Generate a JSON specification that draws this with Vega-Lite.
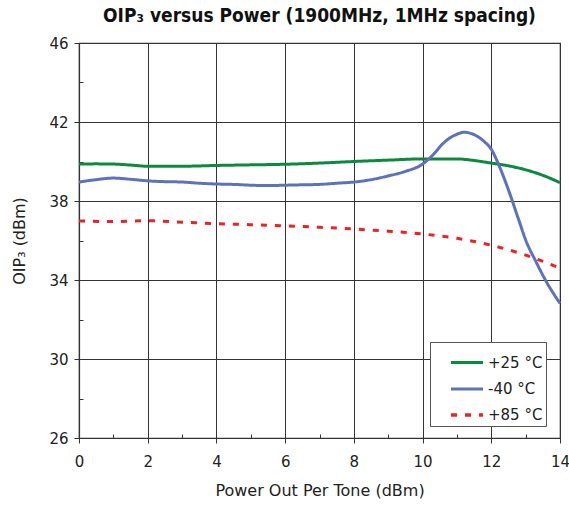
{
  "$schema": "https://vega.github.io/schema/vega-lite/v6.json",
  "autosize": "none",
  "width": 481,
  "height": 395,
  "padding": {"left": 79, "top": 43, "right": 9, "bottom": 68},
  "background": "white",
  "title": {
    "text": "OIP₃ versus Power (1900MHz, 1MHz spacing)",
    "font": "DejaVu Sans Condensed",
    "fontSize": 19,
    "fontWeight": "bold",
    "color": "#111",
    "offset": 10,
    "anchor": "middle"
  },
  "config": {
    "view": {"stroke": "#333", "strokeWidth": 1.2},
    "font": "DejaVu Sans"
  },
  "data": {
    "values": [
      {"series": "+25°C", "x": 0, "y": 39.87},
      {"series": "+25°C", "x": 0.5, "y": 39.88},
      {"series": "+25°C", "x": 1, "y": 39.87},
      {"series": "+25°C", "x": 1.5, "y": 39.82},
      {"series": "+25°C", "x": 2, "y": 39.76},
      {"series": "+25°C", "x": 3, "y": 39.76},
      {"series": "+25°C", "x": 4, "y": 39.8},
      {"series": "+25°C", "x": 5, "y": 39.83},
      {"series": "+25°C", "x": 6, "y": 39.86},
      {"series": "+25°C", "x": 7, "y": 39.92},
      {"series": "+25°C", "x": 8, "y": 40.0},
      {"series": "+25°C", "x": 9, "y": 40.07},
      {"series": "+25°C", "x": 10, "y": 40.13},
      {"series": "+25°C", "x": 11, "y": 40.13},
      {"series": "+25°C", "x": 11.5, "y": 40.05},
      {"series": "+25°C", "x": 12, "y": 39.92},
      {"series": "+25°C", "x": 12.5, "y": 39.78},
      {"series": "+25°C", "x": 13, "y": 39.58},
      {"series": "+25°C", "x": 13.5, "y": 39.3},
      {"series": "+25°C", "x": 14, "y": 38.93},
      {"series": "-40°C", "x": 0, "y": 38.96},
      {"series": "-40°C", "x": 0.5, "y": 39.08},
      {"series": "-40°C", "x": 1, "y": 39.16},
      {"series": "-40°C", "x": 1.5, "y": 39.1},
      {"series": "-40°C", "x": 2, "y": 39.02},
      {"series": "-40°C", "x": 2.5, "y": 38.98},
      {"series": "-40°C", "x": 3, "y": 38.96},
      {"series": "-40°C", "x": 3.5, "y": 38.9},
      {"series": "-40°C", "x": 4, "y": 38.86},
      {"series": "-40°C", "x": 4.5, "y": 38.84},
      {"series": "-40°C", "x": 5, "y": 38.8},
      {"series": "-40°C", "x": 5.5, "y": 38.78},
      {"series": "-40°C", "x": 6, "y": 38.8},
      {"series": "-40°C", "x": 6.5, "y": 38.82},
      {"series": "-40°C", "x": 7, "y": 38.84},
      {"series": "-40°C", "x": 7.5, "y": 38.9},
      {"series": "-40°C", "x": 8, "y": 38.96},
      {"series": "-40°C", "x": 8.5, "y": 39.08},
      {"series": "-40°C", "x": 9, "y": 39.27},
      {"series": "-40°C", "x": 9.5, "y": 39.5},
      {"series": "-40°C", "x": 10, "y": 39.87},
      {"series": "-40°C", "x": 10.3, "y": 40.33},
      {"series": "-40°C", "x": 10.6, "y": 40.92},
      {"series": "-40°C", "x": 10.8, "y": 41.2},
      {"series": "-40°C", "x": 11, "y": 41.38},
      {"series": "-40°C", "x": 11.2, "y": 41.48},
      {"series": "-40°C", "x": 11.5, "y": 41.36},
      {"series": "-40°C", "x": 11.8, "y": 41.0},
      {"series": "-40°C", "x": 12, "y": 40.62},
      {"series": "-40°C", "x": 12.2, "y": 39.9},
      {"series": "-40°C", "x": 12.5, "y": 38.56},
      {"series": "-40°C", "x": 12.8, "y": 37.04},
      {"series": "-40°C", "x": 13, "y": 36.03},
      {"series": "-40°C", "x": 13.3, "y": 34.93},
      {"series": "-40°C", "x": 13.6, "y": 33.92},
      {"series": "-40°C", "x": 14, "y": 32.82},
      {"series": "+85°C", "x": 0, "y": 36.99},
      {"series": "+85°C", "x": 1, "y": 36.96},
      {"series": "+85°C", "x": 2, "y": 37.0},
      {"series": "+85°C", "x": 3, "y": 36.93},
      {"series": "+85°C", "x": 4, "y": 36.85},
      {"series": "+85°C", "x": 5, "y": 36.8},
      {"series": "+85°C", "x": 6, "y": 36.74},
      {"series": "+85°C", "x": 7, "y": 36.67},
      {"series": "+85°C", "x": 8, "y": 36.58},
      {"series": "+85°C", "x": 9, "y": 36.47},
      {"series": "+85°C", "x": 10, "y": 36.33},
      {"series": "+85°C", "x": 11, "y": 36.11},
      {"series": "+85°C", "x": 12, "y": 35.76},
      {"series": "+85°C", "x": 13, "y": 35.26},
      {"series": "+85°C", "x": 14, "y": 34.6}
    ]
  },
  "mark": {"type": "line", "interpolate": "monotone", "strokeWidth": 3},
  "encoding": {
    "x": {
      "field": "x",
      "type": "quantitative",
      "scale": {"domain": [0, 14], "nice": false, "zero": false},
      "axis": {
        "title": "Power Out Per Tone (dBm)",
        "values": [0, 1, 2, 3, 4, 5, 6, 7, 8, 9, 10, 11, 12, 13, 14],
        "labelExpr": "datum.value % 2 == 0 ? datum.label : ''",
        "labelFlush": false,
        "grid": true,
        "gridColor": "#333",
        "gridOpacity": {"condition": {"test": "datum.value % 2 == 0", "value": 1}, "value": 0},
        "gridWidth": 1,
        "tickSize": {"condition": {"test": "datum.value % 2 != 0", "value": -4}, "value": 5},
        "tickColor": "#333",
        "domainColor": "#333",
        "domainWidth": 1.2,
        "labelFont": "DejaVu Sans",
        "labelFontSize": 15,
        "labelColor": "#222",
        "labelPadding": 11,
        "titleFont": "DejaVu Sans",
        "titleFontSize": 16,
        "titleFontWeight": "normal",
        "titleColor": "#222",
        "titlePadding": 13
      }
    },
    "y": {
      "field": "y",
      "type": "quantitative",
      "scale": {"domain": [26, 46], "nice": false, "zero": false},
      "axis": {
        "title": "OIP₃ (dBm)",
        "values": [26, 28, 30, 32, 34, 36, 38, 40, 42, 44, 46],
        "labelExpr": "(datum.value - 26) % 4 == 0 ? datum.label : ''",
        "labelFlush": false,
        "grid": true,
        "gridColor": "#333",
        "gridOpacity": {"condition": {"test": "(datum.value - 26) % 4 == 0", "value": 1}, "value": 0},
        "gridWidth": 1,
        "tickSize": {"condition": {"test": "(datum.value - 26) % 4 != 0", "value": -4}, "value": 5},
        "tickColor": "#333",
        "domainColor": "#333",
        "domainWidth": 1.2,
        "labelFont": "DejaVu Sans",
        "labelFontSize": 15,
        "labelColor": "#222",
        "labelPadding": 6,
        "titleFont": "DejaVu Sans",
        "titleFontSize": 16,
        "titleFontWeight": "normal",
        "titleColor": "#222",
        "titlePadding": 21
      }
    },
    "color": {
      "field": "series",
      "type": "nominal",
      "scale": {"domain": ["+25°C", "-40°C", "+85°C"], "range": ["#0b8a3e", "#5c72ba", "#ee2024"]},
      "legend": {
        "title": null,
        "orient": "none",
        "legendX": 351,
        "legendY": 299,
        "fillColor": "white",
        "strokeColor": "#555",
        "padding": 3,
        "rowPadding": -3,
        "symbolType": "stroke",
        "symbolSize": 1024,
        "symbolStrokeWidth": 3,
        "symbolOffset": 16,
        "labelExpr": "replace(datum.label, '°', ' °') + '    '",
        "labelFont": "DejaVu Sans",
        "labelFontSize": 15,
        "labelColor": "#222",
        "labelOffset": 3
      }
    },
    "strokeDash": {
      "field": "series",
      "type": "nominal",
      "scale": {"domain": ["+25°C", "-40°C", "+85°C"], "range": [[1, 0], [1, 0], [6, 8]]}
    },
    "strokeWidth": {
      "field": "series",
      "type": "nominal",
      "scale": {"domain": ["+25°C", "-40°C", "+85°C"], "range": [2.8, 3.6, 3]},
      "legend": null
    }
  }
}
